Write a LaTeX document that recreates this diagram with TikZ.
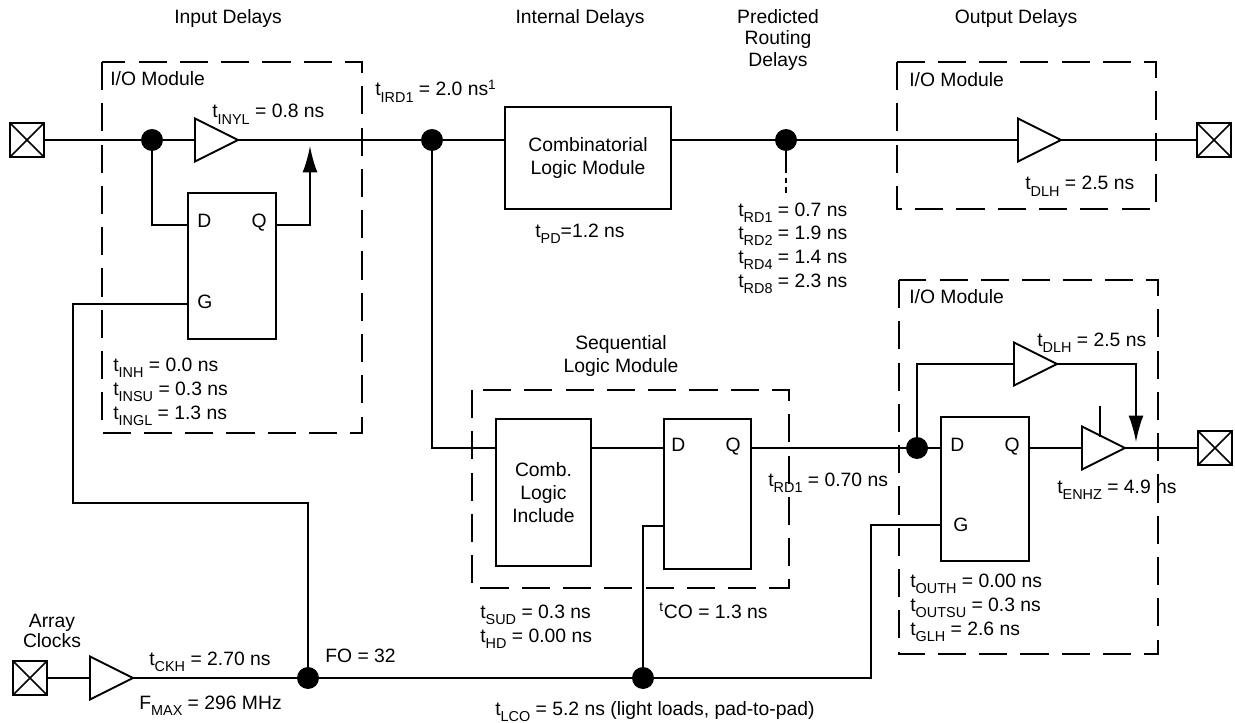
\documentclass[tikz,border=0pt]{standalone}
\usepackage{fontspec}
\setmainfont{Liberation Sans}
\usetikzlibrary{shapes.geometric,arrows.meta}
\newcommand{\lowsub}[1]{\raisebox{-3.8pt}{\fontsize{8.2}{8.2}\selectfont #1}}
\newcommand{\tsub}[1]{t\lowsub{#1}}

\begin{document}
\begin{tikzpicture}[x=0.02cm,y=-0.02cm,font=\fontsize{11}{13}\selectfont]

\tikzset{wire/.style = {line width=1.1pt}}
\tikzset{edge/.style = {wire,-{Latex[length=15pt,width=8.5pt]}}}
\tikzset{module/.style = {line width=1.2pt,dash pattern=on 16pt off 7.5pt}}
\tikzset{block/.style = {draw,line width=1.1pt,inner sep=0pt,outer sep=0pt,align=center}}
\tikzset{buf/.style = {draw,line width=1.1pt,isosceles triangle,isosceles triangle stretches,minimum width=0.86cm,minimum height=0.86cm,inner sep=0pt,outer sep=0pt,anchor=west}}
\tikzset{dot/.style = {circle,fill,inner sep=0pt,minimum size=0.44cm}}
\tikzset{pad/.style = {draw,line width=1.1pt,minimum size=0.68cm,inner sep=0pt,outer sep=0pt}}
\tikzset{lbl/.style = {anchor=base west,inner sep=0pt}}

\useasboundingbox (0,0) rectangle (1235,723);

% headings
\node[anchor=base] (hin) at (228,24) {Input Delays};
\node[anchor=base] (hint) at (580,24) {Internal Delays};
\node[align=center,font=\fontsize{11}{12}\selectfont] (hrt) at (778,40) {Predicted\\Routing\\Delays};
\node[anchor=base] (hout) at (1016,24) {Output Delays};

% modules
\draw[module] (102,62) rectangle (362,433);
\draw[module] (897,62) rectangle (1156,209);
\draw[module] (472,390) rectangle (789,588);
\draw[module] (899,280) rectangle (1158,654);

\node[lbl] (ioin) at (110,86) {I/O Module};
\node[lbl] (ioout) at (909,87) {I/O Module};
\node[lbl] (ioen) at (909,303) {I/O Module};
\node[align=center,font=\fontsize{11}{13.6}\selectfont] (seq) at (621,356) {Sequential\\Logic Module};

% input
\node[pad] (pin) at (27,140) {};
\node[dot] (d1) at (152,140) {};
\node[buf] (b1) at (195,140) {};
\node[block,minimum width=1.76cm,minimum height=2.92cm] (ff1) at (232,266) {};
\coordinate (ff1d) at (188,225);
\coordinate (ff1q) at (276,225);
\coordinate (ff1g) at (188,304);
\coordinate (inq) at (310,146);
\node[lbl] (ff1dl) at (197,228) {D};
\node[anchor=base east,inner sep=0pt] (ff1ql) at (267,228) {Q};
\node[lbl] (ff1gl) at (197,308) {G};

\node[lbl] (tinyl) at (212,118) {\tsub{INYL} = 0.8 ns};
\node[lbl] (tird) at (375,96) {\tsub{IRD1} = 2.0 ns\textsuperscript{1}};
\node[lbl] (tinh) at (113,371) {\tsub{INH} = 0.0 ns};
\node[lbl] (tinsu) at (113,395) {\tsub{INSU} = 0.3 ns};
\node[lbl] (tingl) at (113,419) {\tsub{INGL} = 1.3 ns};

% internal
\node[dot] (d2) at (432,140) {};
\node[block,minimum width=3.32cm,minimum height=2.04cm] (clm) at (588,158) {Combinatorial\\Logic Module};
\node[lbl] (tpd) at (535,237) {\tsub{PD}=1.2 ns};
\node[dot] (d3) at (786,140) {};
\coordinate (rds) at (786,168);
\coordinate (rde) at (786,196);
\node[lbl] (trd1) at (738,216) {\tsub{RD1} = 0.7 ns};
\node[lbl] (trd2) at (738,239) {\tsub{RD2} = 1.9 ns};
\node[lbl] (trd4) at (738,263) {\tsub{RD4} = 1.4 ns};
\node[lbl] (trd8) at (738,287) {\tsub{RD8} = 2.3 ns};

% output
\node[buf] (b2) at (1018,140) {};
\node[pad] (pout) at (1214,140) {};
\node[lbl] (tdlh) at (1025,190) {\tsub{DLH} = 2.5 ns};

% sequential logic module
\node[block,minimum width=1.9cm,minimum height=2.94cm,font=\fontsize{11}{13.3}\selectfont] (clb) at (543.5,492.5) {Comb.\\Logic\\Include};
\node[block,minimum width=1.74cm,minimum height=3cm] (ff2) at (707.5,494) {};
\coordinate (clbin) at (496,448);
\coordinate (clbout) at (591,448);
\coordinate (ff2d) at (664,448);
\coordinate (ff2q) at (751,448);
\coordinate (ff2c) at (664,526);
\node[lbl] (ff2dl) at (671,451) {D};
\node[anchor=base east,inner sep=0pt] (ff2ql) at (741,451) {Q};
\node[lbl] (tsud) at (480,618) {\tsub{SUD} = 0.3 ns};
\node[lbl] (thd) at (480,642) {\tsub{HD} = 0.00 ns};
\node[lbl] (tco) at (659,618) {\textsuperscript{t}CO = 1.3 ns};
\node[lbl] (trd) at (768,486) {\tsub{RD1} = 0.70 ns};

% clocks
\node[align=center,font=\fontsize{11}{11.3}\selectfont] (clk) at (52,631) {Array\\Clocks};
\node[pad] (pclk) at (30,678) {};
\node[buf] (b3) at (90,678) {};
\node[dot] (fo) at (308,678) {};
\node[dot] (d5) at (643,678) {};
\node[lbl] (tckh) at (149,665) {\tsub{CKH} = 2.70 ns};
\node[lbl] (fmax) at (139,709) {F\lowsub{MAX} = 296 MHz};
\node[lbl] (fol) at (325,662) {FO = 32};
\node[lbl] (tlco) at (495,715) {\tsub{LCO} = 5.2 ns (light loads, pad-to-pad)};

% output with enable
\node[dot] (d4) at (917,448) {};
\node[buf] (b4) at (1014,364) {};
\node[block,minimum width=1.76cm,minimum height=2.88cm] (ff3) at (985,489) {};
\coordinate (ff3d) at (941,448);
\coordinate (ff3q) at (1029,448);
\coordinate (ff3g) at (941,525);
\node[buf] (b5) at (1082,448) {};
\node[pad] (pout2) at (1215,448) {};
\coordinate (ent) at (1136,442);
\coordinate (en) at (1100,406);
\coordinate (enb) at (1100,437);
\node[lbl] (ff3dl) at (950,451) {D};
\node[anchor=base east,inner sep=0pt] (ff3ql) at (1020,451) {Q};
\node[lbl] (ff3gl) at (953,531) {G};
\node[lbl] (tdlh2) at (1037,346) {\tsub{DLH} = 2.5 ns};
\node[lbl] (tenhz) at (1057,493) {\tsub{ENHZ} = 4.9 ns};
\node[lbl] (touth) at (910,587) {\tsub{OUTH} = 0.00 ns};
\node[lbl] (toutsu) at (910,611) {\tsub{OUTSU} = 0.3 ns};
\node[lbl] (tglh) at (910,635) {\tsub{GLH} = 2.6 ns};

\foreach \p in {pin,pout,pclk,pout2}
  \draw[line width=0.9pt] (\p.north west) -- (\p.south east) (\p.north east) -- (\p.south west);

% wires
\draw[wire] (pin) -- (d1) -- (b1.west);
\draw[wire] (b1.east) -- (d2) -- (clm.west |- d2);
\draw[wire] (clm.east |- d3) -- (d3) -- (b2.west);
\draw[wire] (b2.east) -- (pout);
\draw[wire] (d1) |- (ff1d);
\draw[edge] (ff1q) -| (inq);
\draw[wire] (ff1g) -- (73,304) |- (308,503) -- (fo);
\draw[wire] (d3) -- (rds);
\draw[wire,dash pattern=on 3pt off 2.5pt] (rds) -- (rde);

\draw[wire] (d2) |- (clbin);
\draw[wire] (clbout) -- (ff2d);
\draw[wire] (ff2q) -- (d4);
\draw[wire] (ff2c) -| (d5);

\draw[wire] (pclk) -- (b3.west);
\draw[wire] (b3.east) -- (fo) -- (d5) -- (871,678) |- (ff3g);

\draw[wire] (d4) -- (ff3d);
\draw[wire] (d4) |- (b4.west);
\draw[edge] (b4.east) -| (ent);
\draw[wire] (ff3q) -- (b5.west);
\draw[wire] (b5.east) -- (pout2);
\draw[wire] (en) -- (enb);

\end{tikzpicture}
\end{document}
